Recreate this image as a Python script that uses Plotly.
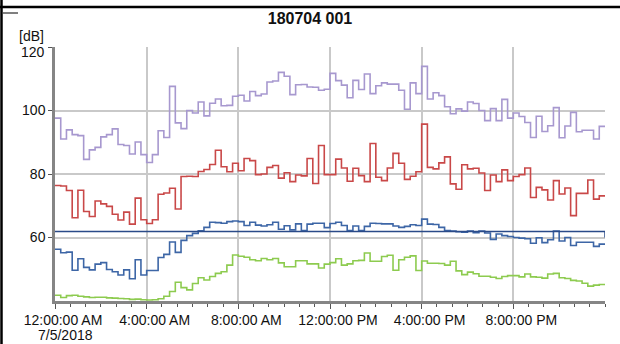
import pandas as pd
import plotly.graph_objects as go

# 15-minute interval levels (dB) for 7/5/2018, 00:00 to 24:00
START = "2018-07-05 00:00"
INTERVAL = "15min"

lzpeak = [
    97.6, 91.0, 93.9, 92.4, 92.1, 84.6, 87.6, 88.4, 91.7, 92.4, 94.2, 89.3,
    89.0, 86.3, 90.1, 86.1, 83.6, 86.1, 93.6, 91.5, 107.6, 96.1, 94.3, 100.0,
    99.2, 102.7, 98.3, 102.3, 103.6, 101.5, 101.6, 104.5, 104.8, 103.0, 106.0, 104.7,
    105.2, 109.0, 109.3, 112.0, 110.8, 105.0, 108.1, 108.2, 107.4, 107.3, 106.4, 106.7,
    111.7, 109.4, 108.0, 104.0, 109.5, 106.6, 111.5, 105.3, 107.8, 108.7, 108.3, 108.3,
    106.4, 100.4, 108.7, 105.3, 113.9, 103.6, 105.6, 104.7, 101.2, 99.0, 100.5, 99.8,
    102.7, 102.2, 100.0, 96.8, 100.6, 96.8, 103.5, 97.6, 99.2, 98.1, 96.2, 91.5,
    98.2, 93.4, 95.2, 100.9, 91.4, 95.1, 99.4, 93.3, 93.8, 93.8, 91.0, 95.0,
]
lafmax = [
    76.4, 76.2, 74.8, 66.2, 74.9, 68.2, 66.6, 71.5, 70.6, 69.8, 67.3, 65.5,
    68.0, 64.2, 72.4, 65.6, 64.4, 65.6, 73.6, 74.0, 75.5, 69.0, 79.2, 79.3,
    79.2, 80.8, 81.4, 83.0, 87.5, 82.3, 80.7, 83.4, 81.0, 84.9, 84.2, 79.8,
    80.0, 82.1, 82.7, 78.7, 80.4, 77.6, 79.7, 79.4, 84.9, 77.0, 89.0, 79.8,
    79.8, 84.7, 81.9, 77.7, 81.8, 79.5, 77.6, 89.6, 79.0, 77.9, 81.9, 86.5,
    83.4, 78.3, 79.3, 80.7, 95.7, 82.1, 81.6, 83.5, 85.4, 76.9, 75.2, 82.9,
    81.6, 81.8, 80.3, 74.8, 79.7, 77.6, 81.3, 77.9, 79.2, 79.8, 81.9, 72.6,
    75.8, 75.0, 71.8, 77.9, 73.7, 75.6, 66.9, 73.9, 73.9, 78.1, 72.1, 73.1,
]
laeq = [
    56.3, 55.2, 55.4, 49.7, 53.3, 50.6, 49.8, 51.6, 52.1, 49.9, 49.2, 48.2,
    49.8, 47.0, 53.0, 48.2, 49.6, 49.6, 53.7, 54.7, 58.6, 55.3, 59.1, 60.6,
    61.3, 62.1, 63.2, 64.8, 64.7, 64.5, 65.0, 65.2, 65.0, 63.8, 64.8, 63.9,
    63.6, 64.0, 64.8, 62.6, 63.7, 62.4, 64.3, 62.2, 64.2, 64.5, 64.5, 63.1,
    64.4, 64.8, 63.8, 62.2, 63.6, 62.2, 63.5, 64.5, 64.4, 64.3, 64.3, 63.6,
    63.2, 63.5, 64.0, 63.8, 65.8, 64.2, 64.1, 63.2, 62.2, 62.0, 61.8, 61.7,
    62.0, 61.5, 62.0, 61.4, 59.4, 61.1, 60.6, 60.3, 60.0, 59.8, 59.6, 58.2,
    59.9, 58.4, 59.3, 62.0, 58.9, 60.0, 57.5, 58.5, 58.5, 58.5, 57.2, 57.9,
]
laf90 = [
    41.8, 41.1, 41.7, 41.8, 41.5, 41.3, 41.1, 41.2, 41.2, 41.0, 40.9, 40.8,
    40.7, 40.5, 40.6, 40.4, 40.3, 40.4, 40.7, 41.5, 43.0, 45.9, 44.2, 43.5,
    45.5, 47.3, 46.6, 47.7, 48.7, 49.2, 51.3, 54.5, 54.1, 53.8, 53.0, 52.7,
    53.4, 53.0, 53.4, 52.0, 50.8, 50.8, 52.7, 52.7, 51.7, 51.7, 50.4, 51.6,
    52.1, 53.3, 51.3, 51.7, 52.7, 52.8, 55.1, 52.5, 52.5, 54.0, 54.4, 49.7,
    53.0, 53.8, 54.2, 49.6, 52.6, 51.9, 51.9, 51.8, 51.3, 52.5, 49.5, 48.3,
    49.1, 48.6, 47.8, 47.8, 47.5, 47.1, 47.7, 48.0, 48.0, 47.6, 48.5, 47.6,
    47.5, 47.2, 48.5, 48.7, 47.3, 47.1, 46.5, 46.3, 45.6, 44.7, 45.0, 45.2,
]
laeq_total = 61.9

tick_hours = [0, 4, 8, 12, 16, 20]
tick_text = ["12:00:00 AM", "4:00:00 AM", "8:00:00 AM",
             "12:00:00 PM", "4:00:00 PM", "8:00:00 PM"]
date_label = "7/5/2018"
y_ticks = [60, 80, 100, 120]
title_text = "180704 001"
unit_text = "[dB]"

W, H = 620, 344
ML, MR, MT, MB = 55, 15, 47, 43
FONT = "Liberation Sans, Arial, sans-serif"

t = pd.date_range(START, periods=len(laeq) + 1, freq=INTERVAL)
t0 = t[0]
t_end = t[-1]


def closed(vals):
    # repeat last value so the final step runs to the end of the period
    return list(vals) + [vals[-1]]


def px_x(p):
    return (p - ML) / (W - ML - MR)


def px_y(p):
    return (H - MB - p) / (H - MT - MB)


fig = go.Figure()
series = [
    (lzpeak, "#a798cf"),
    (lafmax, "#c94848"),
    (laeq, "#3d66a6"),
    (laf90, "#8dcb4f"),
]
for vals, col in series:
    fig.add_trace(go.Scatter(
        x=t, y=closed(vals), mode="lines",
        line=dict(color=col, width=1.6, shape="hv"),
        hoverinfo="skip", showlegend=False,
    ))

# overall level across the whole period
fig.add_trace(go.Scatter(
    x=[t0, t_end, t_end], y=[laeq_total, laeq_total, 60],
    mode="lines", line=dict(color="#2a4a88", width=1.5),
    hoverinfo="skip", showlegend=False,
))

tickvals = [t0 + pd.Timedelta(hours=h) for h in tick_hours]

fig.update_layout(
    width=W, height=H,
    margin=dict(l=ML, r=MR, t=MT, b=MB),
    paper_bgcolor="white", plot_bgcolor="white",
    font=dict(family=FONT, size=14, color="#111111"),
    title=dict(text="<b>%s</b>" % title_text, x=0.5, xanchor="center",
               xref="container", y=(H - 18) / H, yref="container",
               yanchor="middle",
               font=dict(family=FONT, size=16, color="#111111")),
    xaxis=dict(
        type="date", range=[t0, t_end],
        tickvals=tickvals, ticktext=tick_text,
        showgrid=True, gridcolor="#c9c9c9", gridwidth=1.5,
        showline=True, linecolor="#858585", linewidth=2.5,
        ticks="outside", ticklen=5, tickcolor="#555555", tickwidth=1,
        ticklabelshift=8, ticklabelstandoff=-1,
        minor=dict(dtick=40 * 60 * 1000, tick0=t0, ticks="outside",
                   ticklen=3, tickcolor="#555555", showgrid=False),
        zeroline=False, fixedrange=True,
    ),
    yaxis=dict(
        range=[40, 120], tickvals=y_ticks,
        ticktext=[str(v) if v != 120 else "" for v in y_ticks],
        showgrid=True, gridcolor="#c9c9c9", gridwidth=1.5,
        showline=True, linecolor="#858585", linewidth=2.5,
        ticks="outside", ticklen=4, tickcolor="#555555", tickwidth=1,
        zeroline=False, fixedrange=True,
    ),
)

# top tick label sits a little lower, below the unit label
fig.add_annotation(x=0, xref="paper", y=120, yref="y", text=str(y_ticks[-1]),
                   showarrow=False, xanchor="right", yanchor="middle",
                   xshift=-8, yshift=-5, font=dict(family=FONT, size=14))
fig.add_annotation(x=0, xref="paper", y=1, yref="paper", text=unit_text,
                   showarrow=False, xanchor="right", yanchor="bottom",
                   xshift=-9, yshift=1, font=dict(family=FONT, size=14))
fig.add_annotation(x=t0, xref="x", y=0, yref="paper", text=date_label,
                   showarrow=False, xanchor="center", yanchor="top",
                   xshift=10, yshift=-24, font=dict(family=FONT, size=14))

# page frame
frame = dict(color="black", width=2.5)
fig.add_shape(type="line", xref="paper", yref="paper",
              x0=px_x(0), x1=px_x(W), y0=px_y(7), y1=px_y(7), line=frame)
fig.add_shape(type="line", xref="paper", yref="paper",
              x0=px_x(1.5), x1=px_x(1.5), y0=px_y(0), y1=px_y(H), line=frame)
fig.add_shape(type="line", xref="paper", yref="paper",
              x0=px_x(3), x1=px_x(18), y0=px_y(13), y1=px_y(13),
              line=dict(color="black", width=1))

fig.write_html("out.html")
